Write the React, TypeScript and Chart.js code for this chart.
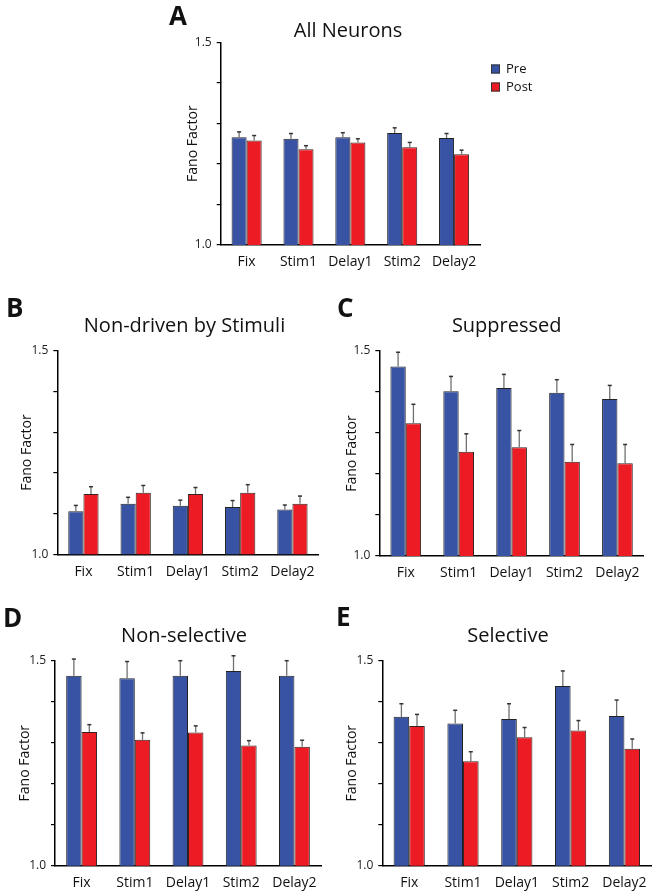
import React, { useEffect, useRef } from 'react';
import { Chart, registerables } from 'chart.js';

Chart.register(...registerables);

// ---------- data ----------
const categories = ['Fix', 'Stim1', 'Delay1', 'Stim2', 'Delay2'];
const seriesNames = ['Pre', 'Post'];
const yTickLabels = ['1.0', '1.5'];
const yMin = 1.0;
const yMax = 1.5;
const yStep = 0.1;

const allPre = [1.266, 1.262, 1.266, 1.276, 1.264];
const allPost = [1.258, 1.236, 1.253, 1.241, 1.224];
const allPreErr = [0.013, 0.013, 0.011, 0.013, 0.011];
const allPostErr = [0.012, 0.009, 0.009, 0.012, 0.010];

const nonDrivenPre = [1.106, 1.124, 1.119, 1.116, 1.110];
const nonDrivenPost = [1.148, 1.151, 1.148, 1.151, 1.124];
const nonDrivenPreErr = [0.014, 0.016, 0.014, 0.016, 0.011];
const nonDrivenPostErr = [0.018, 0.018, 0.016, 0.020, 0.019];

const suppressedPre = [1.462, 1.402, 1.410, 1.398, 1.383];
const suppressedPost = [1.324, 1.254, 1.265, 1.230, 1.226];
const suppressedPreErr = [0.035, 0.036, 0.033, 0.032, 0.033];
const suppressedPostErr = [0.046, 0.044, 0.041, 0.042, 0.046];

const nonSelectivePre = [1.463, 1.457, 1.463, 1.475, 1.463];
const nonSelectivePost = [1.326, 1.307, 1.325, 1.293, 1.290];
const nonSelectivePreErr = [0.041, 0.041, 0.037, 0.037, 0.037];
const nonSelectivePostErr = [0.018, 0.017, 0.016, 0.012, 0.016];

const selectivePre = [1.363, 1.347, 1.358, 1.438, 1.365];
const selectivePost = [1.341, 1.255, 1.313, 1.330, 1.285];
const selectivePreErr = [0.032, 0.032, 0.037, 0.037, 0.039];
const selectivePostErr = [0.028, 0.023, 0.024, 0.024, 0.024];

// ---------- styles / layout ----------
const BLUE = '#3953A4';
const RED = '#ED1C24';
const FONT = '"Open Sans", "DejaVu Sans", sans-serif';

type Box = { left: number; top: number; right: number; bottom: number };
type PanelCfg = {
  letter: string;
  title: string;
  pre: number[];
  post: number[];
  preErr: number[];
  postErr: number[];
  legend: boolean;
  box: Box;
  titleX: number;
  titleY: number;
  letterX: number;
  letterY: number;
  yTitleX: number;
};

const panels: PanelCfg[] = [
  {
    letter: 'A', title: 'All Neurons', pre: allPre, post: allPost, preErr: allPreErr, postErr: allPostErr,
    legend: true, box: { left: 220.7, top: 42.3, right: 480, bottom: 245 },
    titleX: 348, titleY: 36.8, letterX: 169, letterY: 25, yTitleX: 193,
  },
  {
    letter: 'B', title: 'Non-driven by Stimuli', pre: nonDrivenPre, post: nonDrivenPost, preErr: nonDrivenPreErr, postErr: nonDrivenPostErr,
    legend: false, box: { left: 57.3, top: 350.7, right: 320, bottom: 554.3 },
    titleX: 184.5, titleY: 332.3, letterX: 6, letterY: 317, yTitleX: 27.5,
  },
  {
    letter: 'C', title: 'Suppressed', pre: suppressedPre, post: suppressedPost, preErr: suppressedPreErr, postErr: suppressedPostErr,
    legend: false, box: { left: 379.3, top: 351, right: 645, bottom: 556 },
    titleX: 506.7, titleY: 332.3, letterX: 337, letterY: 317, yTitleX: 352.3,
  },
  {
    letter: 'D', title: 'Non-selective', pre: nonSelectivePre, post: nonSelectivePost, preErr: nonSelectivePreErr, postErr: nonSelectivePostErr,
    legend: false, box: { left: 55, top: 660.7, right: 322, bottom: 865.7 },
    titleX: 184, titleY: 642.3, letterX: 3, letterY: 627, yTitleX: 25,
  },
  {
    letter: 'E', title: 'Selective', pre: selectivePre, post: selectivePost, preErr: selectivePreErr, postErr: selectivePostErr,
    legend: false, box: { left: 382.3, top: 660.7, right: 652, bottom: 865.7 },
    titleX: 508, titleY: 642.3, letterX: 336, letterY: 626, yTitleX: 352.3,
  },
];

const decoPlugin = {
  id: 'panelDeco',
  afterDatasetsDraw(chart: any) {
    const ctx = chart.ctx;
    const yScale = chart.scales.y;
    chart.data.datasets.forEach((ds: any, i: number) => {
      const meta = chart.getDatasetMeta(i);
      const errs: number[] = ds.errors || [];
      meta.data.forEach((bar: any, j: number) => {
        const v = ds.data[j];
        const e = errs[j];
        if (e == null) return;
        const yTop = yScale.getPixelForValue(v + e);
        ctx.save();
        ctx.strokeStyle = '#707070';
        ctx.lineWidth = 1.3;
        ctx.beginPath();
        ctx.moveTo(bar.x, bar.y);
        ctx.lineTo(bar.x, yTop);
        ctx.stroke();
        ctx.strokeStyle = '#333';
        ctx.lineWidth = 1.5;
        ctx.beginPath();
        ctx.moveTo(bar.x - 2, yTop);
        ctx.lineTo(bar.x + 2, yTop);
        ctx.stroke();
        ctx.restore();
      });
    });
  },
  afterDraw(chart: any, _args: any, opts: any) {
    const ctx = chart.ctx;
    ctx.save();
    ctx.fillStyle = '#111';
    ctx.textBaseline = 'alphabetic';
    // title
    ctx.font = `20px ${FONT}`;
    ctx.textAlign = 'center';
    ctx.fillText(opts.title, opts.titleX, opts.titleY);
    // panel letter
    ctx.font = `bold 26px ${FONT}`;
    ctx.textAlign = 'left';
    ctx.fillText(opts.letter, opts.letterX, opts.letterY);
    // legend
    if (opts.legend) {
      const lx = chart.chartArea.right + 11;
      const ys = [opts.legendY0, opts.legendY0 + 18];
      chart.data.datasets.forEach((ds: any, i: number) => {
        const cy = ys[i];
        ctx.fillStyle = ds.backgroundColor;
        ctx.fillRect(lx, cy - 4.5, 9, 9);
        ctx.strokeStyle = '#333';
        ctx.lineWidth = 1;
        ctx.strokeRect(lx + 0.5, cy - 4, 8, 8);
        ctx.fillStyle = '#111';
        ctx.font = `13px ${FONT}`;
        ctx.textBaseline = 'middle';
        ctx.fillText(ds.label, lx + 15, cy);
      });
    }
    ctx.restore();
  },
};

function Panel({ cfg }: { cfg: PanelCfg }) {
  const ref = useRef<HTMLCanvasElement>(null);
  const b = cfg.box;
  const cLeft = Math.max(0, Math.floor(b.left - 62));
  const cTop = Math.max(0, Math.floor(b.top - 56));
  const cRight = Math.ceil(b.right + (cfg.legend ? 80 : 4));
  const cBottom = Math.ceil(b.bottom + 32);
  const W = cRight - cLeft;
  const H = cBottom - cTop;

  useEffect(() => {
    const canvas = ref.current;
    if (!canvas) return;
    const yTitleSize = 14;
    const yTitleLH = yTitleSize * 1.2;
    const chart = new Chart(canvas, {
      type: 'bar',
      data: {
        labels: categories,
        datasets: [
          {
            label: seriesNames[0], data: cfg.pre, backgroundColor: BLUE,
            borderColor: '#222', borderWidth: 1, errors: cfg.preErr,
          } as any,
          {
            label: seriesNames[1], data: cfg.post, backgroundColor: RED,
            borderColor: '#332222', borderWidth: 1, errors: cfg.postErr,
          } as any,
        ],
      },
      options: {
        animation: false,
        responsive: false,
        maintainAspectRatio: false,
        layout: {
          padding: { left: 0, top: b.top - cTop, right: cRight - b.right, bottom: 0 },
        },
        datasets: { bar: { categoryPercentage: 0.58, barPercentage: 1 } },
        plugins: {
          legend: { display: false },
          tooltip: { enabled: false },
          title: { display: false },
          panelDeco: {
            title: cfg.title,
            titleX: cfg.titleX - cLeft,
            titleY: cfg.titleY - cTop,
            letter: cfg.letter,
            letterX: cfg.letterX - cLeft,
            letterY: cfg.letterY - cTop,
            legend: cfg.legend,
            legendY0: 69 - cTop,
          },
        } as any,
        scales: {
          x: {
            grid: { display: false, drawTicks: false },
            border: { display: true, color: '#000', width: 1.5 },
            ticks: {
              padding: 9, autoSkip: false, maxRotation: 0, color: '#111',
              font: { family: FONT, size: 14 },
            },
            afterFit: (s: any) => { s.height = cBottom - b.bottom; },
          },
          y: {
            min: yMin, max: yMax,
            ticks: {
              stepSize: yStep, padding: 5, color: '#222',
              font: { family: FONT, size: 12 },
              callback: (v: any) => {
                const n = Number(v);
                if (Math.abs(n - yMin) < 1e-6) return yTickLabels[0];
                if (Math.abs(n - yMax) < 1e-6) return yTickLabels[1];
                return '';
              },
            },
            grid: { drawOnChartArea: false, drawTicks: true, tickLength: 4, color: '#000', lineWidth: 1.2 },
            border: { display: true, color: '#000', width: 1.5 },
            title: {
              display: true, text: 'Fano Factor', color: '#111',
              font: { family: FONT, size: yTitleSize },
              padding: { top: cfg.yTitleX - cLeft - yTitleLH / 2, bottom: 0 },
            },
            afterFit: (s: any) => { s.width = b.left - cLeft; },
          },
        },
      } as any,
      plugins: [decoPlugin],
    });
    return () => chart.destroy();
  }, []);

  return (
    <canvas
      ref={ref}
      width={W}
      height={H}
      style={{ position: 'absolute', left: cLeft, top: cTop, width: W, height: H }}
    />
  );
}

export default function App() {
  return (
    <div style={{ position: 'absolute', left: 0, top: 0, width: 656, height: 896, background: '#fff', overflow: 'hidden' }}>
      {panels.map((p) => (
        <Panel key={p.letter} cfg={p} />
      ))}
    </div>
  );
}
